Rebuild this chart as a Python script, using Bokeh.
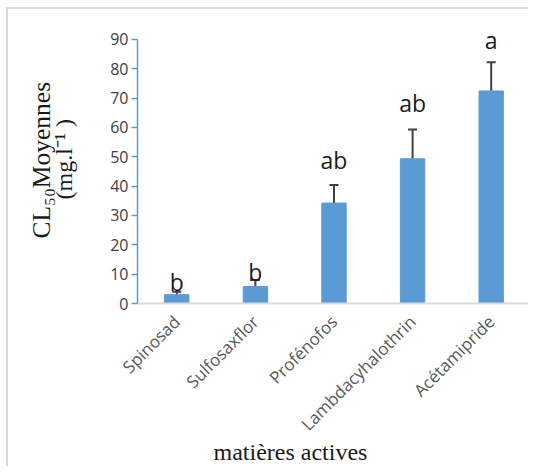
import math
from bokeh.plotting import figure
from bokeh.models import (FactorRange, Range1d, Whisker, ColumnDataSource, Title,
                          FixedTicker, TeeHead)
from bokeh.core.properties import value
from bokeh.embed import file_html
from bokeh.resources import INLINE

# ---- data ----
categories = ["Spinosad", "Sulfosaxflor", "Profénofos", "Lambdacyhalothrin", "Acétamipride"]
means = [3.0, 5.8, 34.2, 49.3, 72.4]
errors = [1.0, 2.2, 6.2, 10.0, 9.8]
letters = ["b", "b", "ab", "ab", "a"]
letter_y = [5.1, 8.3, 46.4, 65.8, 87.3]
y_ticks = [0, 10, 20, 30, 40, 50, 60, 70, 80, 90]

upper = [m + e for m, e in zip(means, errors)]
src = ColumnDataSource(dict(cat=categories, mean=means, upper=upper,
                            letter=letters, ly=letter_y))

BLUE = "#5b9bd5"

p = figure(x_range=FactorRange(*categories, range_padding=0),
           y_range=Range1d(0, 93),
           width=522, height=459,
           min_border_left=129, min_border_right=0,
           min_border_top=21, min_border_bottom=165,
           output_backend="svg", toolbar_location=None)
p.styles = {"margin-left": "6px", "margin-top": "7px",
            "border-top": "2px solid #d9d9d9", "border-left": "2px solid #d9d9d9"}

p.vbar(x="cat", top="mean", width=0.31, source=src, fill_color=BLUE, line_color=BLUE)

w = Whisker(base="cat", lower="mean", upper="upper", source=src,
            line_color="#404040", line_width=2,
            upper_head=TeeHead(size=9, line_color="#404040", line_width=2),
            lower_head=None)
p.add_layout(w)

p.text(x="cat", y="ly", text="letter", source=src, text_align="center",
       text_baseline="alphabetic", y_offset=-7, text_font=value("Open Sans"),
       text_font_size="23px", text_color="#1a1a1a")

p.xgrid.grid_line_color = None
p.ygrid.grid_line_color = None
p.outline_line_color = None
p.background_fill_color = "white"

# y axis
p.yaxis.ticker = FixedTicker(ticks=y_ticks)
p.yaxis.bounds = (0, 90)
p.yaxis.axis_line_color = BLUE
p.yaxis.axis_line_width = 1.5
p.yaxis.major_tick_line_color = BLUE
p.yaxis.major_tick_line_width = 1.5
p.yaxis.major_tick_out = 6
p.yaxis.major_tick_in = 0
p.yaxis.minor_tick_line_color = None
p.yaxis.major_label_text_font = "Open Sans"
p.yaxis.major_label_text_font_size = "16px"
p.yaxis.major_label_text_color = "#404040"
p.yaxis.major_label_standoff = 3

# x axis
p.xaxis.axis_line_color = "#d9d9d9"
p.xaxis.axis_line_width = 2
p.xaxis.major_tick_line_color = None
p.xaxis.minor_tick_line_color = None
p.xaxis.major_label_orientation = math.pi / 4
p.xaxis.major_label_text_font = "Open Sans"
p.xaxis.major_label_text_font_size = "17px"
p.xaxis.major_label_text_color = "#595959"
p.xaxis.major_label_standoff = 9

# axis titles
p.add_layout(Title(text="matières actives", align="left", offset=76, standoff=-20,
                   text_font="Liberation Serif", text_font_size="24px",
                   text_font_style="normal", text_color="#1a1a1a"), "below")
p.add_layout(Title(text="(mg.l⁻¹ )", align="left", offset=104, standoff=61,
                   text_font="Liberation Serif", text_font_size="24px",
                   text_font_style="normal", text_color="#1a1a1a"), "left")
p.add_layout(Title(text="CL₅₀Moyennes", align="left", offset=65, standoff=-75,
                   text_font="Liberation Serif", text_font_size="25.5px",
                   text_font_style="normal", text_color="#1a1a1a"), "left")

open("out.html", "w").write(file_html(p, INLINE))
